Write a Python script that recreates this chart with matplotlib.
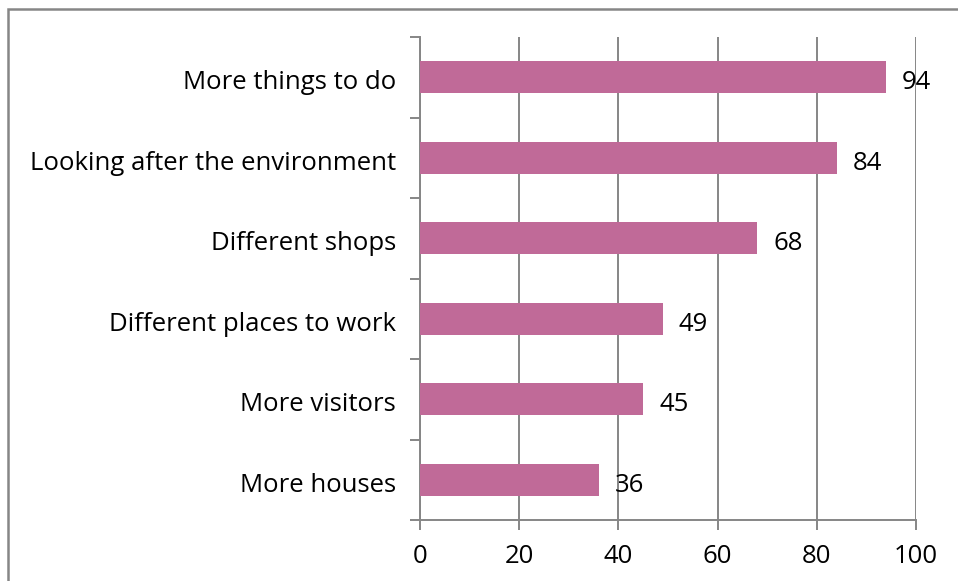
import matplotlib.pyplot as plt
from matplotlib.patches import Rectangle

# survey answers, top of chart first
categories = ["More things to do", "Looking after the environment", "Different shops",
              "Different places to work", "More visitors", "More houses"]
values = [94, 84, 68, 49, 45, 36]
xticks = [0, 20, 40, 60, 80, 100]

BAR_COLOR = "#c06a98"
LINE_COLOR = "#868686"
FONT = "Open Sans"
FS = 18.5

W, H = 958, 581
fig = plt.figure(figsize=(W / 100, H / 100), dpi=100)

# outer frame, runs off the right and bottom edges
fig.patches.append(Rectangle((8 / W, -0.1), 1.2, 1 - 9 / H + 0.1, transform=fig.transFigure,
                             fill=False, edgecolor=LINE_COLOR, linewidth=1.8))

ax = fig.add_axes([420 / W, (H - 520) / H, (916 - 420) / W, (520 - 37) / H])

n = len(categories)
pos = [n - 1 - i for i in range(n)]
ax.barh(pos, values, height=0.4, color=BAR_COLOR, zorder=3)
for p, v in zip(pos, values):
    ax.text(v + 3.2, p - 0.03, str(v), va="center_baseline", ha="left", fontsize=FS,
            family=FONT, zorder=4)

ax.set_xlim(0, 100)
ax.set_ylim(-0.5, n - 0.5)
ax.set_xticks(xticks)
ax.set_xticklabels([str(t) for t in xticks], fontsize=FS, family=FONT)
ax.xaxis.grid(True, color=LINE_COLOR, linewidth=1.4, zorder=0)

# category labels at bar centres, tick marks between categories
ax.set_yticks([i - 0.5 for i in range(n + 1)])
ax.set_yticklabels([])
ax.tick_params(axis="y", length=7, width=1.4, color=LINE_COLOR, direction="out")
ax.tick_params(axis="x", length=7, width=1.4, color=LINE_COLOR, direction="out", pad=10)
for p, c in zip(pos, categories):
    ax.text(-4.8, p - 0.03, c, ha="right", va="center_baseline", fontsize=FS, family=FONT)

for side in ["top", "right"]:
    ax.spines[side].set_visible(False)
for side in ["left", "bottom"]:
    ax.spines[side].set_color(LINE_COLOR)
    ax.spines[side].set_linewidth(1.4)

fig.savefig("out.png", dpi=100)
